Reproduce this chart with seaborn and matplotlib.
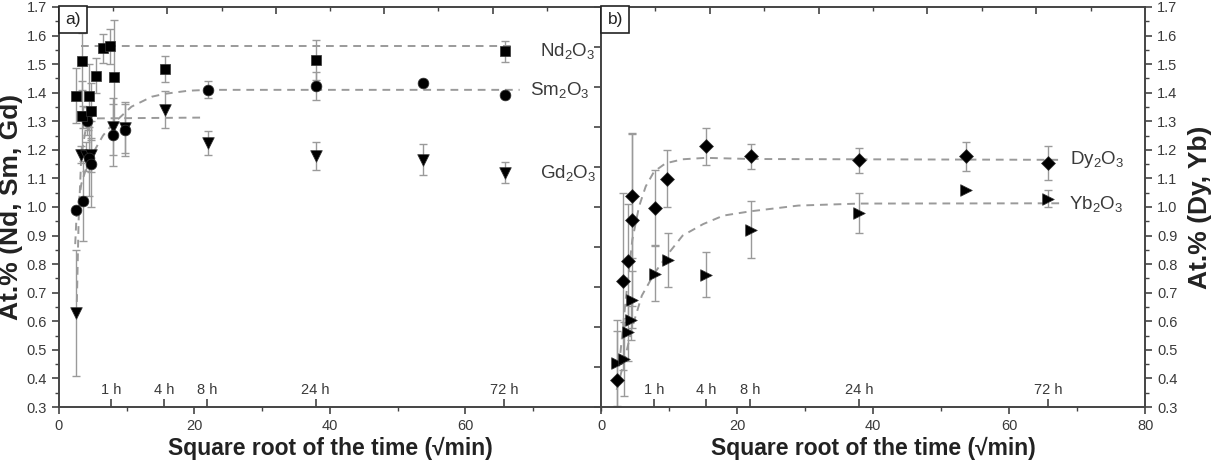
import numpy as np
import matplotlib
matplotlib.use("Agg")
import matplotlib.pyplot as plt
import seaborn as sns
from matplotlib.ticker import MultipleLocator

# ========== DATA ==========
# left panel (a): Nd, Sm, Gd
nd_x = [2.5, 3.4, 3.4, 4.5, 4.7, 5.5, 6.5, 7.5, 8.1, 15.7, 38.0, 65.9]
nd_y = [1.39, 1.51, 1.32, 1.39, 1.335, 1.46, 1.555, 1.562, 1.455, 1.483, 1.515, 1.545]
nd_err = [0.095, 0.1, 0.12, 0.11, 0.1, 0.06, 0.05, 0.06, 0.2, 0.047, 0.07, 0.036]

sm_x = [2.5, 3.6, 4.2, 4.4, 4.7, 8.0, 9.7, 22.0, 38.0, 53.8, 65.9]
sm_y = [0.988, 1.022, 1.301, 1.17, 1.151, 1.252, 1.27, 1.41, 1.424, 1.433, 1.392]
sm_err = [0.0, 0.14, 0.05, 0.13, 0.15, 0.11, 0.09, 0.03, 0.048, 0.0, 0.0]

gd_x = [2.5, 3.3, 3.5, 4.0, 4.3, 4.7, 8.0, 9.7, 15.7, 22.0, 38.0, 53.8, 65.9]
gd_y = [0.63, 1.183, 1.315, 1.177, 1.31, 1.183, 1.281, 1.278, 1.34, 1.223, 1.179, 1.165, 1.12]
gd_err = [0.22, 0.03, 0.04, 0.05, 0.04, 0.06, 0.1, 0.09, 0.065, 0.042, 0.05, 0.054, 0.036]

# fitted curves
nd_fit_x = [3.3, 67.5]
nd_fit_y = [1.565, 1.565]
sm_fit_x = [2.4, 2.6, 3.3, 4.2, 5.3, 6.5, 7.8, 10.7, 13.7, 15.6, 19.1, 22.0, 68.0]
sm_fit_y = [0.87, 0.97, 1.08, 1.15, 1.2, 1.25, 1.287, 1.351, 1.386, 1.396, 1.407, 1.41, 1.41]
gd_fit_x = [2.6, 2.9, 3.3, 4.0, 5.0, 21.5]
gd_fit_y = [0.62, 0.95, 1.18, 1.28, 1.31, 1.313]

# right panel (b): Dy, Yb
dy_x = [2.4, 3.2, 4.0, 4.5, 4.6, 7.9, 9.7, 15.5, 22.0, 38.0, 53.7, 65.7]
dy_y = [0.396, 0.74, 0.81, 1.04, 0.955, 0.998, 1.099, 1.212, 1.177, 1.163, 1.177, 1.153]
dy_err = [0.17, 0.31, 0.2, 0.22, 0.3, 0.13, 0.1, 0.065, 0.045, 0.043, 0.052, 0.06]

yb_x = [2.4, 3.4, 4.0, 4.4, 4.5, 7.9, 9.8, 15.5, 22.0, 38.0, 53.7, 65.7]
yb_y = [0.454, 0.468, 0.561, 0.603, 0.676, 0.766, 0.815, 0.763, 0.92, 0.979, 1.058, 1.029]
yb_err = [0.15, 0.13, 0.1, 0.07, 0.1, 0.096, 0.095, 0.078, 0.1, 0.07, 0.0, 0.03]

dy_fit_x = [2.65, 3.63, 4.6, 5.59, 6.57, 7.8, 9.5, 12.0, 15.4, 22.0, 68.0]
dy_fit_y = [0.442, 0.676, 0.885, 1.002, 1.072, 1.124, 1.153, 1.167, 1.172, 1.168, 1.165]
yb_fit_x = [2.3, 3.4, 4.6, 6.0, 7.9, 10.0, 12.0, 15.0, 18.0, 22.0, 29.0, 38.0, 68.0]
yb_fit_y = [0.36, 0.46, 0.58, 0.69, 0.77, 0.84, 0.90, 0.94, 0.97, 0.985, 1.005, 1.012, 1.013]

hour_labels = ["1 h", "4 h", "8 h", "24 h", "72 h"]
hour_pos = [7.75, 15.5, 21.9, 37.9, 65.7]

# ========== STYLE ==========
sns.set_style("ticks")
plt.rcParams["font.family"] = ["Liberation Sans", "DejaVu Sans"]
plt.rcParams["mathtext.fontset"] = "custom"
plt.rcParams["mathtext.rm"] = "Liberation Sans"
plt.rcParams["mathtext.it"] = "Liberation Sans:italic"
plt.rcParams["mathtext.bf"] = "Liberation Sans:bold"
plt.rcParams["mathtext.default"] = "regular"

SPINE = "#444444"
TXT = "#3a3a3a"
ERR = "#9a9a9a"
FIT = "#9a9a9a"
TICK_FS = 10.5


def draw_series(ax, x, y, err, marker, size=60):
    ax.errorbar(x, y, yerr=err, fmt="none", ecolor=ERR, elinewidth=1.0,
                capsize=3, capthick=1.0, zorder=2)
    sns.scatterplot(x=x, y=y, marker=marker, s=size, color="black",
                    edgecolor="#333333", linewidth=0.5, ax=ax, zorder=4, legend=False)


def draw_fit(ax, x, y):
    sns.lineplot(x=x, y=y, ax=ax, color=FIT, linestyle=(0, (4, 3)), linewidth=1.4,
                 sort=False, estimator=None, zorder=3)


def style_axes(ax, xticks):
    ax.set_xlim(0, 80)
    ax.set_ylim(0.3, 1.7)
    for sp in ax.spines.values():
        sp.set_visible(True)
        sp.set_color(SPINE)
        sp.set_linewidth(1.4)
    ax.set_xticks(xticks)
    ax.xaxis.set_minor_locator(MultipleLocator(10))
    ax.tick_params(axis="x", which="major", direction="out", length=5, width=1.2,
                   colors=SPINE, labelcolor=TXT, labelsize=TICK_FS, top=False)
    ax.tick_params(axis="x", which="minor", direction="out", length=3, width=1.0,
                   colors=SPINE, top=False)
    # hour ticks pointing inward
    hrs = ax.secondary_xaxis("bottom")
    hrs.set_xticks(hour_pos)
    hrs.tick_params(direction="in", length=6, width=1.2, colors=SPINE, labelbottom=False)
    hrs.spines["bottom"].set_visible(False)
    for lab, pos in zip(hour_labels, hour_pos):
        ax.text(pos, 0.335, lab, ha="center", va="bottom", fontsize=TICK_FS, color=TXT)
    # top ticks
    top = ax.secondary_xaxis("top")
    top.set_xticks([16, 32, 48, 64])
    top.set_xticks([8, 24, 40, 56, 72], minor=True)
    top.tick_params(which="major", direction="in", length=5, width=1.2, colors=SPINE, labeltop=False)
    top.tick_params(which="minor", direction="in", length=3, width=1.0, colors=SPINE)
    top.spines["top"].set_visible(False)
    ax.set_xlabel("Square root of the time (\u221amin)", fontsize=16.5, fontweight="bold",
                  color="#222222", labelpad=3)


fig = plt.figure(figsize=(12.13, 4.66), dpi=100)
ax1 = fig.add_axes([0.0486, 0.1266, 0.4468, 0.8584])
ax2 = fig.add_axes([0.4955, 0.1266, 0.4485, 0.8584])

# ---------- panel a ----------
draw_fit(ax1, nd_fit_x, nd_fit_y)
draw_fit(ax1, sm_fit_x, sm_fit_y)
draw_fit(ax1, gd_fit_x, gd_fit_y)
draw_series(ax1, gd_x, gd_y, gd_err, "v", 70)
draw_series(ax1, sm_x, sm_y, sm_err, "o", 60)
draw_series(ax1, nd_x, nd_y, nd_err, "s", 55)
style_axes(ax1, [0, 20, 40, 60])
ax1.yaxis.set_major_locator(MultipleLocator(0.1))
ax1.yaxis.set_minor_locator(MultipleLocator(0.05))
ax1.tick_params(axis="y", which="major", direction="out", length=5, width=1.2,
                colors=SPINE, labelcolor=TXT, labelsize=TICK_FS, right=False)
ax1.tick_params(axis="y", which="minor", direction="out", length=3, width=1.0,
                colors=SPINE, right=False)
ax1.set_ylabel("At.% (Nd, Sm, Gd)", fontsize=19, fontweight="bold", color="#222222", labelpad=3)
ax1.text(71, 1.545, "Nd$_2$O$_3$", fontsize=13.5, color=TXT, va="center", ha="left")
ax1.text(69.5, 1.41, "Sm$_2$O$_3$", fontsize=13.5, color=TXT, va="center", ha="left")
ax1.text(71, 1.12, "Gd$_2$O$_3$", fontsize=13.5, color=TXT, va="center", ha="left")
ax1.text(0.012, 0.988, "a)", transform=ax1.transAxes, fontsize=12.5, color="#222222",
         ha="left", va="top", zorder=6,
         bbox=dict(boxstyle="square,pad=0.35", fc="white", ec="#222222", lw=1.2))

# ---------- panel b ----------
draw_fit(ax2, dy_fit_x, dy_fit_y)
draw_fit(ax2, yb_fit_x, yb_fit_y)
draw_series(ax2, yb_x, yb_y, yb_err, ">", 70)
draw_series(ax2, dy_x, dy_y, dy_err, "D", 50)
style_axes(ax2, [0, 20, 40, 60, 80])
ax2.yaxis.tick_right()
ax2.yaxis.set_label_position("right")
ax2.yaxis.set_major_locator(MultipleLocator(0.1))
ax2.yaxis.set_minor_locator(MultipleLocator(0.05))
ax2.tick_params(axis="y", which="major", direction="out", length=5, width=1.2,
                colors=SPINE, labelcolor=TXT, labelsize=TICK_FS, left=False, right=True)
ax2.tick_params(axis="y", which="minor", direction="out", length=3, width=1.0,
                colors=SPINE, left=False, right=True)
lft = ax2.secondary_yaxis("left")
lft.set_yticks(np.linspace(0.3, 1.7, 11))
lft.tick_params(direction="out", length=5, width=1.2, colors=SPINE, labelleft=False)
lft.spines["left"].set_visible(False)
ax2.set_ylabel("At.% (Dy, Yb)", fontsize=19, fontweight="bold", color="#222222",
               labelpad=8)
ax2.text(69, 1.165, "Dy$_2$O$_3$", fontsize=13.5, color=TXT, va="center", ha="left")
ax2.text(68.8, 1.01, "Yb$_2$O$_3$", fontsize=13.5, color=TXT, va="center", ha="left")
ax2.text(0.012, 0.988, "b)", transform=ax2.transAxes, fontsize=12.5, color="#222222",
         ha="left", va="top", zorder=6,
         bbox=dict(boxstyle="square,pad=0.35", fc="white", ec="#222222", lw=1.2))

fig.savefig("out.png", dpi=100)
